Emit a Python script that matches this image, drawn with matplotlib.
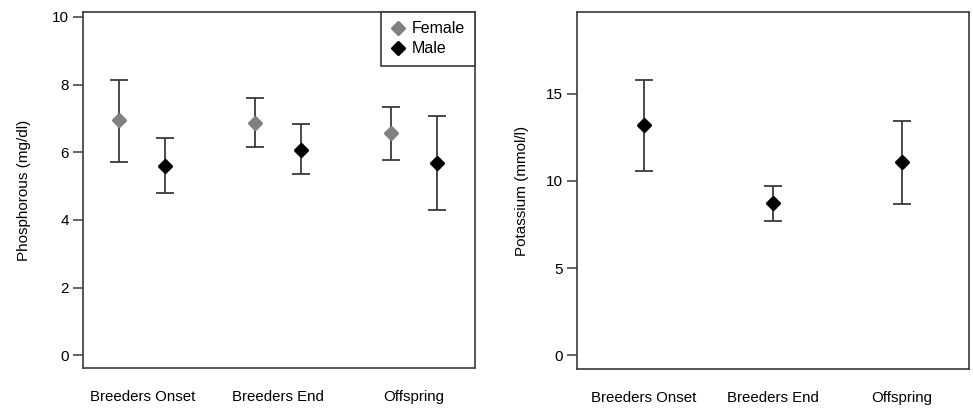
import matplotlib.pyplot as plt
from matplotlib.markers import MarkerStyle
import numpy as np

plt.rcParams['font.family'] = ['Liberation Sans', 'DejaVu Sans']

groups = ["Breeders Onset", "Breeders End", "Offspring"]

# phosphorous (mg/dl) by sex
phos_female_mean = [6.95, 6.87, 6.56]
phos_female_low = [5.71, 6.16, 5.77]
phos_female_high = [8.14, 7.60, 7.33]
phos_male_mean = [5.60, 6.07, 5.69]
phos_male_low = [4.80, 5.36, 4.29]
phos_male_high = [6.41, 6.83, 7.07]

# potassium (mmol/l)
pot_mean = [13.19, 8.73, 11.08]
pot_low = [10.59, 7.70, 8.66]
pot_high = [15.77, 9.73, 13.43]

bar_color = "#3a3a3a"
female_color = "#808080"
male_color = "black"

# rounded diamond, like R's pch 18
diamond = MarkerStyle("D", joinstyle="round")


def draw_points(ax, x, mean, low, high, color, label=None):
    mean = np.array(mean)
    err = [mean - np.array(low), np.array(high) - mean]
    ax.errorbar(x, mean, yerr=err, fmt="none", ecolor=bar_color,
                elinewidth=1.3, capsize=6.4, capthick=1.3, zorder=2)
    ax.plot(x, mean, linestyle="none", marker=diamond, markersize=6.3,
            markeredgewidth=2.2, markeredgecolor=color,
            color=color, label=label, zorder=3)


def style_axes(ax):
    for s in ax.spines.values():
        s.set_color(bar_color)
        s.set_linewidth(1.2)
    ax.tick_params(axis="y", length=7, width=1.1, color=bar_color,
                   labelsize=11, pad=3)
    ax.tick_params(axis="x", length=0, labelsize=10.8, pad=16)


fig = plt.figure(figsize=(9.73, 4.08), dpi=100)
ax1 = fig.add_axes([0.085, 0.098, 0.403, 0.873])
ax2 = fig.add_axes([0.593, 0.095, 0.403, 0.876])

x = np.arange(1, len(groups) + 1)
off = 0.17

draw_points(ax1, x - off, phos_female_mean, phos_female_low, phos_female_high,
            female_color, "Female")
draw_points(ax1, x + off, phos_male_mean, phos_male_low, phos_male_high,
            male_color, "Male")
ax1.set_xlim(0.56, 3.45)
ax1.set_ylim(-0.38, 10.15)
ax1.set_yticks([0, 2, 4, 6, 8, 10])
ax1.set_xticks(x)
ax1.set_xticklabels(groups)
ax1.set_ylabel("Phosphorous (mg/dl)", fontsize=11, labelpad=15)
style_axes(ax1)

leg = ax1.legend(loc="upper right", borderaxespad=0, fancybox=False,
                 framealpha=1, edgecolor=bar_color, fontsize=11.5,
                 handletextpad=0.35, handlelength=1.0, labelspacing=0.3,
                 borderpad=0.6, markerscale=0.9)
leg.get_frame().set_linewidth(1.2)

draw_points(ax2, x, pot_mean, pot_low, pot_high, male_color)
ax2.set_xlim(0.48, 3.52)
ax2.set_ylim(-0.8, 19.7)
ax2.set_yticks([0, 5, 10, 15])
ax2.set_xticks(x)
ax2.set_xticklabels(groups)
ax2.set_ylabel("Potassium (mmol/l)", fontsize=11, labelpad=12)
style_axes(ax2)

plt.savefig("out.png", dpi=100)
